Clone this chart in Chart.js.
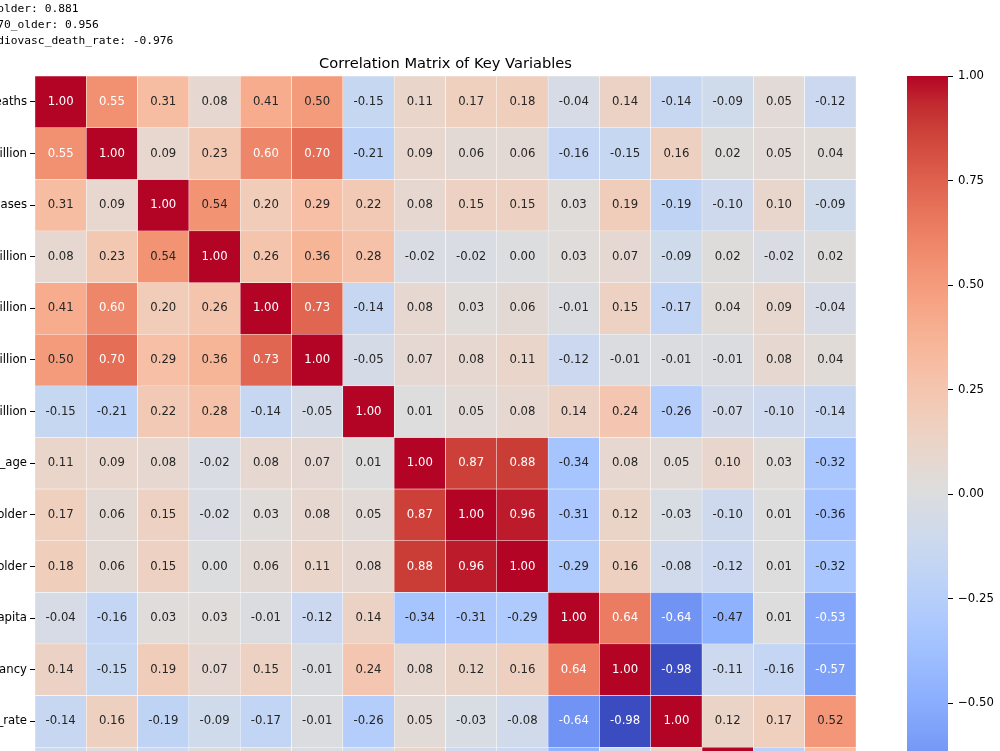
<!DOCTYPE html>
<html>
<head>
<meta charset="utf-8">
<title>Correlation Matrix of Key Variables</title>
<script src="https://cdn.jsdelivr.net/npm/chart.js@4.4.1/dist/chart.umd.min.js"></script>
<style>
  html, body { margin: 0; padding: 0; background: #fff; overflow: hidden; width: 1000px; height: 751px; }
  #notes { position: absolute; left: -145px; top: 1px; margin: 0; font: 11.25px/16px "DejaVu Sans Mono", monospace; color: #000; white-space: pre; z-index: 2; }
  #heat-wrap { position: absolute; left: -165px; top: 0; width: 1021px; height: 1102px; }
  #cbar-wrap { position: absolute; left: 907px; top: 0; width: 101px; height: 1102px; }
</style>
</head>
<body>
<pre id="notes"></pre>
<div id="heat-wrap"><canvas id="heatmap"></canvas></div>
<div id="cbar-wrap"><canvas id="colorbar"></canvas></div>
<script>
// printed pairs above the figure
const notes = [
  "median_age - aged_70_older: 0.881",
  "aged_65_older - aged_70_older: 0.956",
  "life_expectancy - cardiovasc_death_rate: -0.976",
];

const variables = [
  "new_deaths", "new_deaths_per_million", "new_cases", "new_cases_per_million",
  "icu_patients_per_million", "hosp_patients_per_million", "new_vaccinations_smoothed_per_million",
  "median_age", "aged_65_older", "aged_70_older", "gdp_per_capita", "life_expectancy",
  "cardiovasc_death_rate", "diabetes_prevalence", "hospital_beds_per_thousand", "extreme_poverty",
];

// correlation rows (rows 14-16 are mostly below the visible area)
const corr = [
  [1.00, 0.55, 0.31, 0.08, 0.41, 0.50, -0.15, 0.11, 0.17, 0.18, -0.04, 0.14, -0.14, -0.09, 0.05, -0.12],
  [0.55, 1.00, 0.09, 0.23, 0.60, 0.70, -0.21, 0.09, 0.06, 0.06, -0.16, -0.15, 0.16, 0.02, 0.05, 0.04],
  [0.31, 0.09, 1.00, 0.54, 0.20, 0.29, 0.22, 0.08, 0.15, 0.15, 0.03, 0.19, -0.19, -0.10, 0.10, -0.09],
  [0.08, 0.23, 0.54, 1.00, 0.26, 0.36, 0.28, -0.02, -0.02, 0.00, 0.03, 0.07, -0.09, 0.02, -0.02, 0.02],
  [0.41, 0.60, 0.20, 0.26, 1.00, 0.73, -0.14, 0.08, 0.03, 0.06, -0.01, 0.15, -0.17, 0.04, 0.09, -0.04],
  [0.50, 0.70, 0.29, 0.36, 0.73, 1.00, -0.05, 0.07, 0.08, 0.11, -0.12, -0.01, -0.01, -0.01, 0.08, 0.04],
  [-0.15, -0.21, 0.22, 0.28, -0.14, -0.05, 1.00, 0.01, 0.05, 0.08, 0.14, 0.24, -0.26, -0.07, -0.10, -0.14],
  [0.11, 0.09, 0.08, -0.02, 0.08, 0.07, 0.01, 1.00, 0.87, 0.88, -0.34, 0.08, 0.05, 0.10, 0.03, -0.32],
  [0.17, 0.06, 0.15, -0.02, 0.03, 0.08, 0.05, 0.87, 1.00, 0.96, -0.31, 0.12, -0.03, -0.10, 0.01, -0.36],
  [0.18, 0.06, 0.15, 0.00, 0.06, 0.11, 0.08, 0.88, 0.96, 1.00, -0.29, 0.16, -0.08, -0.12, 0.01, -0.32],
  [-0.04, -0.16, 0.03, 0.03, -0.01, -0.12, 0.14, -0.34, -0.31, -0.29, 1.00, 0.64, -0.64, -0.47, 0.01, -0.53],
  [0.14, -0.15, 0.19, 0.07, 0.15, -0.01, 0.24, 0.08, 0.12, 0.16, 0.64, 1.00, -0.98, -0.11, -0.16, -0.57],
  [-0.14, 0.16, -0.19, -0.09, -0.17, -0.01, -0.26, 0.05, -0.03, -0.08, -0.64, -0.98, 1.00, 0.12, 0.17, 0.52],
  [-0.09, 0.02, -0.10, 0.02, 0.04, -0.01, -0.07, 0.10, -0.10, -0.12, -0.47, -0.11, 0.12, 1.00, -0.22, 0.30],
  [0.05, 0.05, 0.10, -0.02, 0.09, 0.08, -0.10, 0.03, 0.01, 0.01, 0.01, -0.16, 0.17, -0.22, 1.00, 0.15],
  [-0.12, 0.04, -0.09, 0.02, -0.04, 0.04, -0.14, -0.32, -0.36, -0.32, -0.53, -0.57, 0.52, 0.30, 0.15, 1.00],
];

const vmin = -0.976;
const vmax = 1.0;
const cbarTicks = [1.0, 0.75, 0.5, 0.25, 0.0, -0.25, -0.5, -0.75];

// coolwarm, 33 evenly spaced stops
const coolwarm = [
  [59,76,192],[68,90,204],[77,104,215],[87,117,225],[98,130,234],[108,142,241],[119,154,247],[130,165,251],
  [141,176,254],[152,185,255],[163,194,255],[174,201,253],[184,208,249],[194,213,244],[204,217,238],[213,219,230],
  [221,221,221],[229,216,209],[236,211,197],[241,204,185],[245,196,173],[247,187,160],[247,177,148],[247,166,135],
  [244,154,123],[241,141,111],[236,127,99],[229,112,88],[222,96,77],[213,80,66],[203,62,56],[192,40,47],[180,4,38],
];

function cmap(t) {
  t = Math.min(1, Math.max(0, t));
  const p = t * (coolwarm.length - 1);
  const i = Math.min(coolwarm.length - 2, Math.floor(p));
  const f = p - i;
  return coolwarm[i].map((c, k) => c + (coolwarm[i + 1][k] - c) * f);
}

function valueRGB(v) {
  return cmap((v - vmin) / (vmax - vmin));
}

function css(rgb) {
  return `rgb(${rgb.map(Math.round).join(",")})`;
}

// seaborn picks white text on dark cells
function textColor(v) {
  const lin = valueRGB(v).map((c) => {
    c /= 255;
    return c <= 0.03928 ? c / 12.92 : Math.pow((c + 0.055) / 1.055, 2.4);
  });
  const lum = 0.2126 * lin[0] + 0.7152 * lin[1] + 0.0722 * lin[2];
  return lum > 0.408 ? "rgb(38,38,38)" : "#fff";
}

document.getElementById("notes").textContent = notes.join("\n");

const annotPlugin = {
  id: "annot",
  afterDatasetsDraw(chart) {
    const ctx = chart.ctx;
    ctx.save();
    ctx.font = '11.7px "DejaVu Sans"';
    ctx.textAlign = "center";
    ctx.textBaseline = "middle";
    chart.data.datasets.forEach((ds, i) => {
      chart.getDatasetMeta(i).data.forEach((bar, j) => {
        const v = corr[i][j];
        ctx.fillStyle = textColor(v);
        ctx.fillText(v.toFixed(2), bar.x, (bar.y + bar.base) / 2);
      });
    });
    ctx.restore();
  },
};

const tickFont = { family: "DejaVu Sans", size: 11.7 };

new Chart(document.getElementById("heatmap"), {
  type: "bar",
  data: {
    labels: variables,
    datasets: corr.map((row, i) => ({
      label: variables[i],
      data: row.map(() => [i, i + 1]),
      backgroundColor: row.map((v) => css(valueRGB(v))),
      borderColor: "#fff",
      borderWidth: 0.5,
      borderSkipped: false,
      grouped: false,
      barPercentage: 1,
      categoryPercentage: 1,
    })),
  },
  options: {
    animation: false,
    responsive: true,
    maintainAspectRatio: false,
    layout: { padding: 0 },
    plugins: {
      legend: { display: false },
      tooltip: { enabled: false },
      title: {
        display: true,
        text: "Correlation Matrix of Key Variables",
        fullSize: false,
        color: "#000",
        font: { family: "DejaVu Sans", size: 14.65, weight: "normal" },
        padding: { top: 55.5, bottom: 3 },
      },
    },
    scales: {
      x: {
        type: "category",
        afterFit: (s) => { s.height = 200; },
        ticks: { font: tickFont, color: "#000", maxRotation: 90, minRotation: 90, autoSkip: false },
        grid: { drawOnChartArea: false, tickLength: 5, color: "#000" },
        border: { display: false },
      },
      y: {
        type: "linear",
        min: 0,
        max: 16,
        reverse: true,
        afterBuildTicks: (s) => { s.ticks = variables.map((_, i) => ({ value: i + 0.5 })); },
        afterFit: (s) => { s.width = 200; },
        ticks: { font: tickFont, color: "#000", padding: 3, autoSkip: false, callback: (v, idx) => variables[idx] },
        grid: { drawOnChartArea: false, tickLength: 5, color: "#000" },
        border: { display: false },
      },
    },
  },
  plugins: [annotPlugin],
});

new Chart(document.getElementById("colorbar"), {
  type: "bar",
  data: {
    labels: ["cbar"],
    datasets: [{
      data: [[vmin, vmax]],
      backgroundColor: (c) => {
        const a = c.chart.chartArea;
        if (!a) return "#ddd";
        const g = c.chart.ctx.createLinearGradient(0, a.bottom, 0, a.top);
        coolwarm.forEach((rgb, k) => g.addColorStop(k / (coolwarm.length - 1), css(rgb)));
        return g;
      },
      borderWidth: 0,
      barPercentage: 1,
      categoryPercentage: 1,
    }],
  },
  options: {
    animation: false,
    responsive: true,
    maintainAspectRatio: false,
    layout: { padding: { top: 76, bottom: 200, left: 0, right: 0 } },
    plugins: { legend: { display: false }, tooltip: { enabled: false } },
    scales: {
      x: { display: false },
      y: {
        position: "right",
        min: vmin,
        max: vmax,
        afterBuildTicks: (s) => { s.ticks = cbarTicks.map((v) => ({ value: v })); },
        afterFit: (s) => { s.width = 60; },
        ticks: { font: tickFont, color: "#000", padding: 5, callback: (v) => v.toFixed(2).replace("-", "\u2212") },
        grid: { drawOnChartArea: false, tickLength: 5, color: "#000" },
        border: { display: false },
      },
    },
  },
});
</script>
</body>
</html>
